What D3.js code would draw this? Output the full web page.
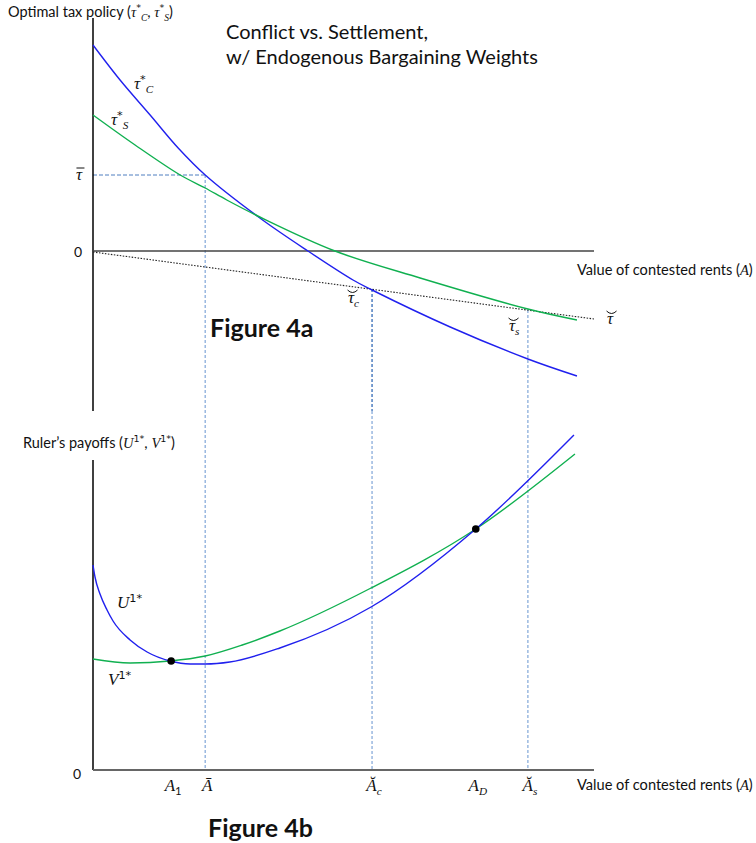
<!DOCTYPE html>
<html>
<head>
<meta charset="utf-8">
<script src="https://cdn.jsdelivr.net/npm/d3@7"></script>
<style>
  body { margin: 0; background: #fff; }
  text { font-family: Lato, "Open Sans", sans-serif; fill: #111; }
  .m { font-family: "Liberation Serif", serif; font-style: italic; }
  .st { font-family: "DejaVu Sans", sans-serif; }
</style>
</head>
<body>
<svg id="drawing_region"></svg>
<script>
// values: A = value of contested rents (0..10)
const rentsTauC = [0, 0.54, 1.14, 1.70, 2.24, 3.33, 4.29, 5.19, 5.57, 7.13, 8.68, 9.66];
const tauC      = [2.06, 1.71, 1.36, 1.03, 0.76, 0.33, 0.0, -0.29, -0.39, -0.76, -1.08, -1.25];
const rentsTauS = [0, 0.84, 1.74, 2.24, 2.67, 3.33, 4.83, 6.53, 8.68, 9.66];
const tauS      = [1.36, 1.06, 0.76, 0.63, 0.51, 0.34, 0.0, -0.27, -0.58, -0.69];
const rentsBreve = [0, 10];
const tauBreve   = [-0.01, -0.68];
const tauBar = 0.76;

const rentsU  = [0, 0.04, 0.14, 0.28, 0.40, 0.74, 1.08, 1.54, 1.94, 2.24, 2.73, 3.73, 5.55, 7.64, 9.60];
const payoffU = [2.05, 1.93, 1.76, 1.60, 1.49, 1.30, 1.18, 1.09, 1.06, 1.06, 1.08, 1.22, 1.63, 2.41, 3.35];
const rentsV  = [0, 0.74, 1.54, 2.24, 2.98, 3.73, 5.55, 7.64, 9.62];
const payoffV = [1.11, 1.07, 1.09, 1.14, 1.25, 1.39, 1.82, 2.41, 3.16];

const A1 = 1.56, ABar = 2.24, ATildeC = 5.57, AD = 7.64, ATildeS = 8.68;
const dotRents  = [A1, AD];
const dotPayoff = [1.09, 2.41];

var config = {
    width: 756,
    height: 843,
    xLeft: 93, xRight: 594,
    top:    { y0: 26, y1: 411, domain: [-1.6, 2.25] },
    bottom: { y0: 470, y1: 770, domain: [0, 3] }
};

const svg = d3.select('#drawing_region')
    .attr('width', config.width)
    .attr('height', config.height);

const x = d3.scaleLinear().domain([0, 10]).range([config.xLeft, config.xRight]);
const yTau = d3.scaleLinear().domain(config.top.domain).range([config.top.y1, config.top.y0]);
const yPay = d3.scaleLinear().domain(config.bottom.domain).range([config.bottom.y1, config.bottom.y0]);

// text with italic math pieces, sub- and superscripts
function richText(sel, px, py, parts, anchor, size) {
    const shift = { base: 0, sup: -6, sub: 4 };
    let cur = 0;
    const t = sel.append('text').attr('x', px).attr('y', py)
        .attr('text-anchor', anchor || 'start')
        .style('font-size', (size || 17) + 'px');
    parts.forEach(p => {
        const pos = p.pos || 'base';
        const s = t.append('tspan').text(p.t).attr('dy', shift[pos] - cur);
        cur = shift[pos];
        if (p.m) s.attr('class', 'm');
        if (p.t.indexOf('*') >= 0) s.attr('class', 'st');
        if (pos !== 'base') s.style('font-size', '0.66em');
        if (p.dx) s.attr('dx', p.dx);
    });
    return t;
}

// small accent drawn over the first glyph of a text
function accent(t, kind) {
    const ext = t.node().getExtentOfChar(0);
    const base = +t.attr('y');
    const cx = ext.x + ext.width / 2 + 1.5;
    if (kind === 'bar') {
        svg.append('line')
            .attr('x1', cx - 4).attr('x2', cx + 4)
            .attr('y1', base - 12).attr('y2', base - 12)
            .attr('stroke', '#111').attr('stroke-width', 1);
    } else {
        svg.append('path')
            .attr('d', `M${cx - 5},${base - 13} Q${cx},${base - 8} ${cx + 5},${base - 13}`)
            .attr('fill', 'none').attr('stroke', '#111').attr('stroke-width', 1);
    }
}

const line = (xs, ys, yScale, curve) => d3.line()
    .x(i => x(xs[i]))
    .y(i => yScale(ys[i]))
    .curve(curve || d3.curveCatmullRom.alpha(0.5))(d3.range(xs.length));

const blue = '#2020ee', green = '#10b050';
const dashDark = '#4f7fc0', dashLight = '#9ab8e0';

// ---------- guide lines ----------
svg.append('line')
    .attr('x1', x(0)).attr('x2', x(ABar))
    .attr('y1', yTau(tauBar)).attr('y2', yTau(tauBar))
    .attr('stroke', dashDark).attr('stroke-width', 1).attr('stroke-dasharray', '4,2');

[[ABar, yTau(tauBar), dashLight], [ATildeC, yTau(-0.38), dashDark], [ATildeS, yTau(-0.59), dashLight]]
    .forEach(d => {
        svg.append('line')
            .attr('x1', x(d[0])).attr('x2', x(d[0]))
            .attr('y1', d[1]).attr('y2', d[0] === ATildeC ? config.top.y1 : yPay(0))
            .attr('stroke', d[2]).attr('stroke-width', 1.5).attr('stroke-dasharray', '3,2');
        if (d[0] === ATildeC) {
            svg.append('line')
                .attr('x1', x(d[0])).attr('x2', x(d[0]))
                .attr('y1', config.top.y1).attr('y2', yPay(0))
                .attr('stroke', dashLight).attr('stroke-width', 1.5).attr('stroke-dasharray', '3,2');
        }
    });

// ---------- top panel axes ----------
svg.append('line')
    .attr('x1', x(0)).attr('x2', x(0)).attr('y1', config.top.y0 - 8).attr('y2', config.top.y1)
    .attr('stroke', '#000').attr('stroke-width', 1.5);
svg.append('line')
    .attr('x1', x(0)).attr('x2', config.xRight).attr('y1', yTau(0)).attr('y2', yTau(0))
    .attr('stroke', '#444').attr('stroke-width', 1.5);

// tau-breve dotted line
svg.append('path')
    .attr('d', d3.line().x(i => x(rentsBreve[i])).y(i => yTau(tauBreve[i]))(d3.range(rentsBreve.length)))
    .attr('fill', 'none').attr('stroke', '#222').attr('stroke-width', 1.1).attr('stroke-dasharray', '1.5,1.5');

svg.append('path').attr('d', line(rentsTauC, tauC, yTau))
    .attr('fill', 'none').attr('stroke', blue).attr('stroke-width', 1.4);
svg.append('path').attr('d', line(rentsTauS, tauS, yTau))
    .attr('fill', 'none').attr('stroke', green).attr('stroke-width', 1.4);

// ---------- bottom panel ----------
svg.append('line')
    .attr('x1', x(0)).attr('x2', x(0)).attr('y1', config.bottom.y0 - 10).attr('y2', yPay(0))
    .attr('stroke', '#000').attr('stroke-width', 1.5);
svg.append('line')
    .attr('x1', x(0)).attr('x2', config.xRight).attr('y1', yPay(0)).attr('y2', yPay(0))
    .attr('stroke', '#666').attr('stroke-width', 2);

svg.append('path').attr('d', line(rentsV, payoffV, yPay, d3.curveMonotoneX))
    .attr('fill', 'none').attr('stroke', green).attr('stroke-width', 1.4);
svg.append('path').attr('d', line(rentsU, payoffU, yPay, d3.curveMonotoneX))
    .attr('fill', 'none').attr('stroke', blue).attr('stroke-width', 1.4);

svg.selectAll('circle.dot')
    .data(d3.range(dotRents.length))
    .enter()
    .append('circle')
    .attr('cx', i => x(dotRents[i]))
    .attr('cy', i => yPay(dotPayoff[i]))
    .attr('r', 3.8)
    .attr('fill', '#000');

// ---------- texts ----------
svg.append('text').attr('x', 226).attr('y', 39).style('font-size', '20px')
    .text('Conflict vs. Settlement,');
svg.append('text').attr('x', 226).attr('y', 64).style('font-size', '20px')
    .text('w/ Endogenous Bargaining Weights');

richText(svg, 8, 17, [
    { t: 'Optimal tax policy (' }, { t: 'τ', m: true }, { t: '*', pos: 'sup' },
    { t: 'C', m: true, pos: 'sub' }, { t: ', ' }, { t: 'τ', m: true },
    { t: '*', pos: 'sup' }, { t: 'S', m: true, pos: 'sub' }, { t: ')' }
], 'start', 14.5);

richText(svg, 23, 448, [
    { t: 'Ruler’s payoffs (' }, { t: 'U', m: true }, { t: '1*', pos: 'sup' },
    { t: ', ' }, { t: 'V', m: true }, { t: '1*', pos: 'sup' }, { t: ')' }
], 'start', 14.5);

[275, 790].forEach(yy => {
    const xl = svg.append('text').attr('x', 577).attr('y', yy).style('font-size', '14.6px')
        .text('Value of contested rents (');
    xl.append('tspan').attr('class', 'm').text('A');
    xl.append('tspan').text(')');
});

svg.append('text').attr('x', 210).attr('y', 337).style('font-size', '25px').style('font-weight', 'bold')
    .text('Figure 4a');
svg.append('text').attr('x', 208).attr('y', 837).style('font-size', '25px').style('font-weight', 'bold')
    .text('Figure 4b');

// y tick labels
svg.append('text').attr('x', 82).attr('y', yTau(0) + 6).attr('text-anchor', 'end')
    .style('font-size', '14px').text('0');
const tb = svg.append('text').attr('x', 82).attr('y', yTau(tauBar) + 5).attr('text-anchor', 'end')
    .attr('class', 'm').style('font-size', '17px').text('τ');
accent(tb, 'bar');
svg.append('text').attr('x', 81).attr('y', yPay(0) + 9).attr('text-anchor', 'end')
    .style('font-size', '14px').text('0');

// curve labels
richText(svg, 134, 89, [{ t: 'τ', m: true }, { t: '*', pos: 'sup' }, { t: 'C', m: true, pos: 'sub' }]);
richText(svg, 111, 125, [{ t: 'τ', m: true }, { t: '*', pos: 'sup' }, { t: 'S', m: true, pos: 'sub' }]);
accent(richText(svg, 348, 303, [{ t: 'τ', m: true }, { t: 'c', m: true, pos: 'sub' }]), 'breve');
accent(richText(svg, 509, 331, [{ t: 'τ', m: true }, { t: 's', m: true, pos: 'sub' }]), 'breve');
accent(richText(svg, 607, 324, [{ t: 'τ', m: true }]), 'breve');
richText(svg, 117, 608, [{ t: 'U', m: true }, { t: '1*', pos: 'sup' }]);
richText(svg, 108, 685, [{ t: 'V', m: true }, { t: '1*', pos: 'sup' }]);

// x tick labels on bottom axis
const tickRents = [A1, ABar, ATildeC, AD, ATildeS];
const tickParts = [
    [{ t: 'A', m: true }, { t: '1', pos: 'sub' }],
    [{ t: 'Ā', m: true }],
    [{ t: 'Ă', m: true }, { t: 'c', m: true, pos: 'sub' }],
    [{ t: 'A', m: true }, { t: 'D', m: true, pos: 'sub' }],
    [{ t: 'Ă', m: true }, { t: 's', m: true, pos: 'sub' }]
];
tickRents.forEach((r, i) => richText(svg, x(r) + 2, 791, tickParts[i], 'middle'));
</script>
</body>
</html>
